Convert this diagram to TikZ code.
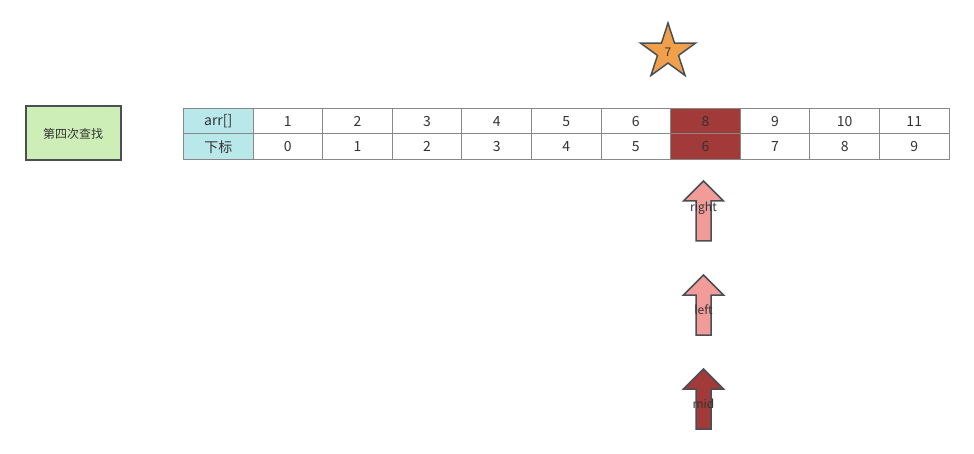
\documentclass[tikz,border=0pt]{standalone}
\usepackage{fontspec}
\setmainfont{Noto Sans CJK SC}
\usetikzlibrary{shapes.geometric}
\definecolor{txt}{HTML}{333333}
\definecolor{grid}{HTML}{888888}
\definecolor{head}{HTML}{B9E8EA}
\definecolor{hot}{HTML}{A33A3A}
\definecolor{pinkf}{HTML}{F19C99}
\definecolor{orangef}{HTML}{F0A04B}
\definecolor{greenf}{HTML}{CDEEB6}
\definecolor{edge}{HTML}{4A4F55}
\begin{document}
\begin{tikzpicture}[x=1pt,y=-1pt,
  cell/.style={draw=grid, line width=0.9pt, minimum width=69.6pt, minimum height=25.5pt, inner sep=0pt, anchor=north west, font=\fontsize{14}{14}\selectfont, text=txt},
  lbl/.style={font=\fontsize{12}{12}\selectfont, text=txt, inner sep=0pt},
  uparrow/.pic={\path[pic actions] (0,0) -- (20,20) -- (7.5,20) -- (7.5,60) -- (-7.5,60) -- (-7.5,20) -- (-20,20) -- cycle;}
]
\useasboundingbox (0,0) rectangle (974,454);
% title box
\node[draw=edge, line width=2pt, fill=greenf, minimum width=95pt, minimum height=54pt, inner sep=0pt, font=\fontsize{12}{12}\selectfont, text=txt] (title) at (73,133.5) {第四次查找};
% table
\foreach \v [count=\i from 0] in {arr[],1,2,3,4,5,6,8,9,10,11}{
  \ifnum\i=0 \def\fc{head}\else\ifnum\i=7 \def\fc{hot}\else\def\fc{white}\fi\fi
  \node[cell, fill=\fc] (a\i) at (183+\i*69.6,108) {\v};
}
\foreach \v [count=\i from 0] in {下标,0,1,2,3,4,5,6,7,8,9}{
  \ifnum\i=0 \def\fc{head}\else\ifnum\i=7 \def\fc{hot}\else\def\fc{white}\fi\fi
  \node[cell, fill=\fc] (b\i) at (183+\i*69.6,133.5) {\v};
}
% star
\node[star, star points=5, star point ratio=2.618, minimum size=58pt, inner sep=0pt, draw=edge, line width=1.5pt, fill=orangef, font=\fontsize{12}{12}\selectfont, text=txt] (key) at (668,52) {7};
% arrows
\pic[draw=edge, line width=1.5pt, fill=pinkf] at (703.5,181) {uparrow};
\node[lbl] (right) at (703.5,208) {right};
\pic[draw=edge, line width=1.5pt, fill=pinkf] at (703.5,275) {uparrow};
\node[lbl] (left) at (703.5,310) {left};
\pic[draw=edge, line width=1.5pt, fill=hot] at (703.5,369) {uparrow};
\node[lbl] (mid) at (703.5,404) {mid};
\end{tikzpicture}
\end{document}
